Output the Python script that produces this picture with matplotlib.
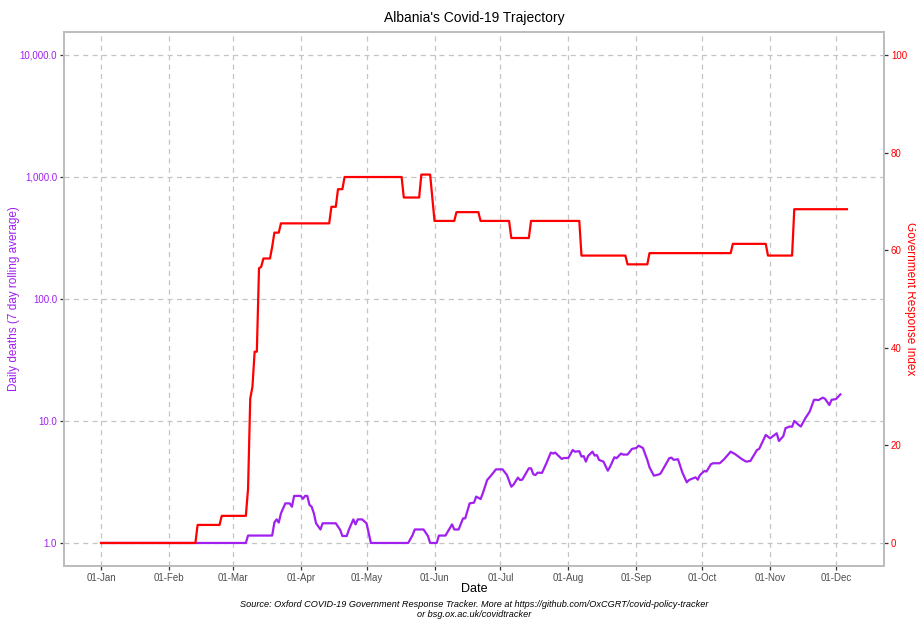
import numpy as np
import pandas as pd
import matplotlib
matplotlib.use('Agg')
import matplotlib.pyplot as plt
import matplotlib.dates as mdates
from matplotlib.ticker import FixedLocator, FuncFormatter, NullLocator

plt.rcParams['font.family'] = ['Liberation Sans', 'DejaVu Sans']

#---------------------------------------------------------------------------------------#
# data (days counted from 01-Jan-2020)
start = pd.Timestamp('2020-01-01')

deaths_day = [0, 66, 67, 78, 79, 80, 81, 82, 84, 86, 87, 88, 91, 92, 93, 94, 95, 96, 97, 98,
              100, 101, 107, 109, 110, 112, 113, 115, 116, 117, 119, 121, 122, 123, 140, 142,
              143, 147, 149, 150, 153, 154, 157, 160, 161, 163, 165, 166, 168, 170, 171, 173,
              174, 176, 178, 180, 183, 185, 187, 188, 190, 191, 192, 195, 196, 197, 198, 199,
              201, 203, 205, 206, 207, 210, 211, 213, 215, 216, 218, 219, 220, 221, 222, 224,
              225, 226, 227, 229, 231, 232, 234, 235, 237, 238, 240, 242, 244, 245, 247, 249,
              250, 252, 254, 255, 257, 259, 260, 261, 263, 265, 267, 268, 271, 272, 273, 275,
              276, 278, 279, 282, 284, 287, 289, 292, 294, 296, 299, 300, 303, 305, 308, 309,
              311, 312, 314, 315, 316, 318, 319, 321, 323, 325, 326, 327, 329, 330, 332, 333,
              335, 337]
deaths_avg = [1.0, 1.0, 1.15, 1.15, 1.47, 1.56, 1.47, 1.75, 2.11, 2.11, 1.98, 2.43, 2.43, 2.3,
              2.43, 2.43, 2.05, 1.98, 1.75, 1.45, 1.29, 1.45, 1.45, 1.28, 1.14, 1.14, 1.29,
              1.56, 1.42, 1.56, 1.56, 1.45, 1.2, 1.0, 1.0, 1.16, 1.29, 1.29, 1.14, 1.0, 1.0,
              1.15, 1.15, 1.42, 1.29, 1.29, 1.59, 1.59, 2.11, 2.14, 2.4, 2.29, 2.55, 3.28, 3.61,
              4.01, 4.01, 3.61, 2.89, 3.0, 3.43, 3.28, 3.3, 4.09, 4.09, 3.66, 3.6, 3.77, 3.75,
              4.5, 5.5, 5.4, 5.5, 4.88, 4.97, 4.97, 5.78, 5.6, 5.65, 5.1, 5.15, 4.64, 5.16, 5.6,
              5.2, 5.25, 4.79, 4.64, 3.91, 4.2, 5.04, 4.95, 5.4, 5.3, 5.3, 5.9, 6.0, 6.27, 6.0,
              4.79, 4.17, 3.56, 3.63, 3.7, 4.27, 4.95, 5.0, 4.8, 4.85, 3.77, 3.14, 3.28, 3.45,
              3.3, 3.6, 3.89, 3.85, 4.42, 4.5, 4.5, 4.85, 5.6, 5.35, 4.88, 4.64, 4.7, 5.78, 5.9,
              7.68, 7.2, 7.92, 6.85, 7.5, 8.72, 9.0, 8.95, 10.0, 9.27, 9.0, 10.5, 11.9, 14.9,
              14.9, 14.8, 15.5, 15.2, 13.5, 14.9, 15.1, 16.5]

index_day = [0, 43, 44, 54, 55, 66, 67, 68, 69, 70, 71, 72, 73, 74, 77, 78, 79, 81, 82, 104,
             105, 107, 108, 110, 111, 137, 138, 145, 146, 150, 152, 161, 162, 172, 173, 186,
             187, 195, 196, 218, 219, 239, 240, 249, 250, 287, 288, 303, 304, 315, 316, 340]
index_val = [0, 0, 3.7, 3.7, 5.56, 5.56, 11.1, 29.6, 32.0, 39.2, 39.2, 56.3, 56.6, 58.3, 58.3,
             60.7, 63.6, 63.6, 65.5, 65.5, 68.9, 68.9, 72.5, 72.5, 75.0, 75.0, 70.8, 70.8,
             75.5, 75.5, 66.0, 66.0, 67.8, 67.8, 66.0, 66.0, 62.5, 62.5, 66.0, 66.0, 58.9,
             58.9, 57.1, 57.1, 59.4, 59.4, 61.3, 61.3, 58.9, 58.9, 68.4, 68.4]

deaths_ticks = [1, 10, 100, 1000, 10000]
index_ticks = [0, 20, 40, 60, 80, 100]
#---------------------------------------------------------------------------------------#
purple = '#A020F0'
red = '#FF0000'
border = '#BDBDBD'

deaths_date = start + pd.to_timedelta(deaths_day, unit='D')
index_date = start + pd.to_timedelta(index_day, unit='D')

fig = plt.figure(figsize=(9.16, 6.21), dpi=100)
ax = fig.add_axes([64/916, 1-566.4/621, 820/916, (566.4-31.6)/621])
ax2 = ax.twinx()

ax.plot(deaths_date, deaths_avg, color=purple, lw=1.6, solid_joinstyle='round')
ax2.plot(index_date, index_val, color=red, lw=1.6, solid_joinstyle='round')

ax.set_yscale('log')
ax.set_ylim(10**-0.192, 10**4.19)
ax2.set_ylim(-4.8, 104.8)
ax.set_xlim(start + pd.Timedelta(days=-16.9), start + pd.Timedelta(days=356.9))

ax.yaxis.set_major_locator(FixedLocator(deaths_ticks))
ax.yaxis.set_minor_locator(NullLocator())
ax.yaxis.set_major_formatter(FuncFormatter(lambda v, p: '{:,.1f}'.format(v)))
ax2.yaxis.set_major_locator(FixedLocator(index_ticks))

ax.xaxis.set_major_locator(mdates.MonthLocator(bymonthday=1))
ax.xaxis.set_major_formatter(mdates.DateFormatter('%d-%b'))

ax.grid(True, color='#C4C4C4', linestyle=(0, (4, 3.5)), linewidth=0.9)
ax.set_axisbelow(True)

for a in (ax, ax2):
    for s in a.spines.values():
        s.set_color(border)
        s.set_linewidth(1.3)
    a.tick_params(length=3, width=0.9, color='#333333', labelsize=7, pad=2)

ax.tick_params(axis='x', labelcolor='#4D4D4D')
ax.tick_params(axis='y', labelcolor=purple)
ax2.tick_params(axis='y', labelcolor=red)

ax.set_title("Albania's Covid-19 Trajectory", fontsize=10, pad=7)
ax.set_xlabel('Date', fontsize=9)
ax.xaxis.set_label_coords(0.5, -0.031)
ax.set_ylabel('Daily deaths (7 day rolling average)', color=purple, fontsize=8.5, va='center')
ax.yaxis.set_label_coords(-0.061, 0.5)
ax2.set_ylabel('Government Response Index', color=red, fontsize=8.5, rotation=-90, va='center')
ax2.yaxis.set_label_coords(1.0317, 0.5)

fig.text(474/916, 1-609.5/621,
         'Source: Oxford COVID-19 Government Response Tracker. More at '
         'https://github.com/OxCGRT/covid-policy-tracker\nor bsg.ox.ac.uk/covidtracker',
         ha='center', va='center', fontsize=6.6, style='italic', linespacing=1.05)

fig.savefig('out.png', dpi=100)
